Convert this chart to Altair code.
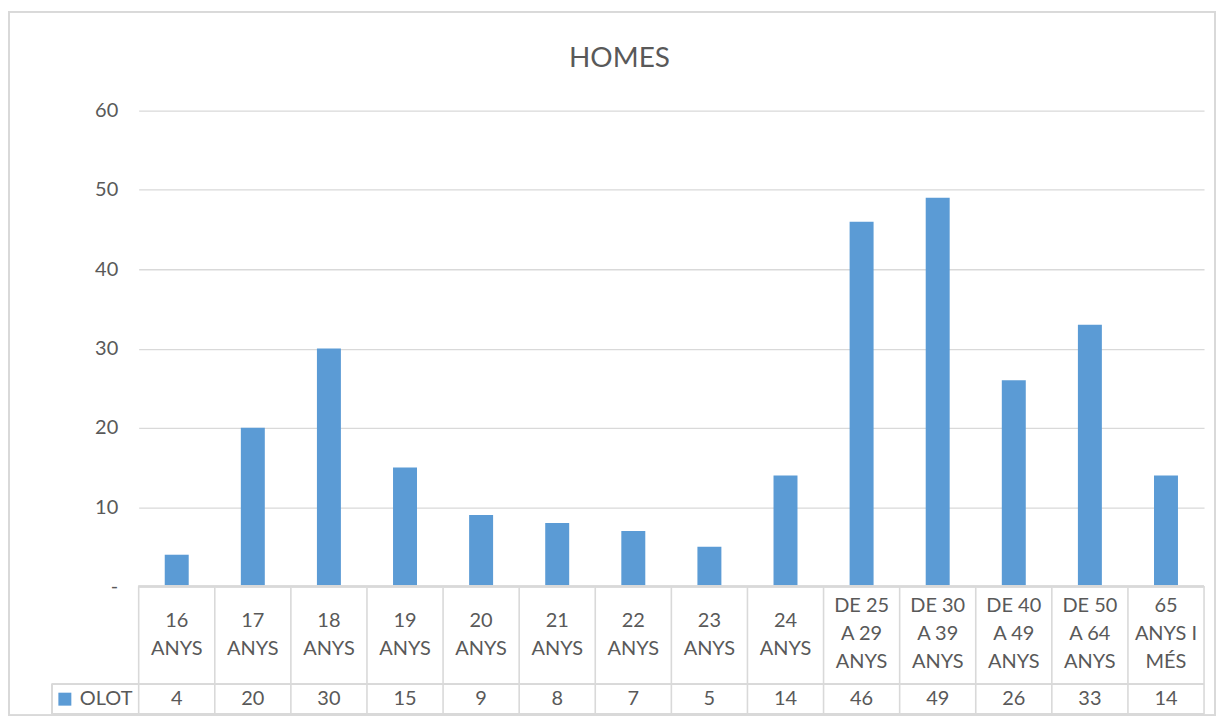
import altair as alt
import pandas as pd

categories = ["16\nANYS", "17\nANYS", "18\nANYS", "19\nANYS", "20\nANYS", "21\nANYS",
              "22\nANYS", "23\nANYS", "24\nANYS", "DE 25\nA 29\nANYS", "DE 30\nA 39\nANYS",
              "DE 40\nA 49\nANYS", "DE 50\nA 64\nANYS", "65\nANYS I\nMÉS"]
values = [4, 20, 30, 15, 9, 8, 7, 5, 14, 46, 49, 26, 33, 14]
series = "OLOT"
y_ticks = [0, 10, 20, 30, 40, 50, 60]

df = pd.DataFrame({"cat": categories, "val": values, "serie": [series] * len(values)})
df["nlines"] = [c.count("\n") + 1 for c in categories]

W, H = 1068, 477
FONT = "Lato"
FS = 20
GRAY = "#595959"
LINE = "#d9d9d9"
ROW1 = 575      # line between header row and value row (relative to plot top)
ROW2 = 605      # bottom line of table

def xscale():
    return alt.Scale(paddingInner=0, paddingOuter=0)

xenc = alt.X("cat:N", sort=categories, axis=None, scale=xscale())

base = alt.Chart(df)

bars = base.mark_bar(width=alt.RelativeBandSize(0.315)).encode(
    x=xenc,
    y=alt.Y("val:Q", scale=alt.Scale(domain=[0, 60], nice=False),
            axis=alt.Axis(values=y_ticks, title=None, domain=False, ticks=False,
                          labelExpr="datum.value == 0 ? '-' : datum.label",
                          labelFontSize=FS, labelColor=GRAY, labelFont=FONT,
                          labelPadding=21, gridColor=LINE, gridWidth=1.3)),
    color=alt.Color("serie:N", scale=alt.Scale(range=["#5b9bd5"]),
                    legend=alt.Legend(orient="none", legendX=-84, legendY=580, title=None,
                                      symbolType="square", symbolSize=169, symbolStrokeWidth=0,
                                      labelFontSize=FS, labelColor=GRAY, labelFont=FONT,
                                      padding=0, labelOffset=5)),
)

rule_style = dict(color=LINE, strokeWidth=1.6)
vlines = base.mark_rule(**rule_style).encode(
    x=alt.X("cat:N", sort=categories, bandPosition=0, axis=None, scale=xscale()),
    y=alt.value(H), y2=alt.value(ROW2),
)
vlast = alt.Chart(df.iloc[[-1]]).mark_rule(**rule_style).encode(
    x=alt.X("cat:N", sort=categories, bandPosition=1, axis=None, scale=xscale()),
    y=alt.value(H), y2=alt.value(ROW2),
)
hl0 = base.mark_rule(**rule_style).encode(x=alt.value(0), x2=alt.value(W), y=alt.value(H))
hl1 = base.mark_rule(**rule_style).encode(x=alt.value(-87), x2=alt.value(W), y=alt.value(ROW1))
hl2 = base.mark_rule(**rule_style).encode(x=alt.value(-87), x2=alt.value(W), y=alt.value(ROW2))
vl_left = base.mark_rule(**rule_style).encode(x=alt.value(-87), y=alt.value(ROW1), y2=alt.value(ROW2))

border = base.mark_rect(fill=None, stroke=LINE, strokeWidth=1.3).encode(
    x=alt.value(-130), x2=alt.value(1079), y=alt.value(-99), y2=alt.value(606.2))

text_style = dict(fontSize=FS, font=FONT, color=GRAY, baseline="middle",
                  lineBreak="\n", lineHeight=28)
header2 = base.transform_filter("datum.nlines == 2").mark_text(**text_style).encode(
    x=xenc, y=alt.value(512), text="cat:N")
header3 = base.transform_filter("datum.nlines == 3").mark_text(**text_style).encode(
    x=xenc, y=alt.value(497), text="cat:N")
vals = base.mark_text(fontSize=FS, font=FONT, color=GRAY, baseline="middle").encode(
    x=xenc, y=alt.value(590), text="val:Q")

chart = alt.layer(border, bars, vlines, vlast, hl0, hl1, hl2, vl_left,
                  header2, header3, vals).properties(
    width=W, height=H,
    title=alt.TitleParams("HOMES", fontSize=28, font=FONT, color=GRAY, fontWeight="normal",
                          anchor="middle", frame="group", baseline="alphabetic",
                          dx=-52, offset=-84),
    autosize=alt.AutoSizeParams(type="none"),
    padding={"left": 131, "top": 102, "right": 14, "bottom": 130},
).configure_view(stroke=None)

chart.save("out.html", embed_options={"renderer": "svg", "actions": False})
